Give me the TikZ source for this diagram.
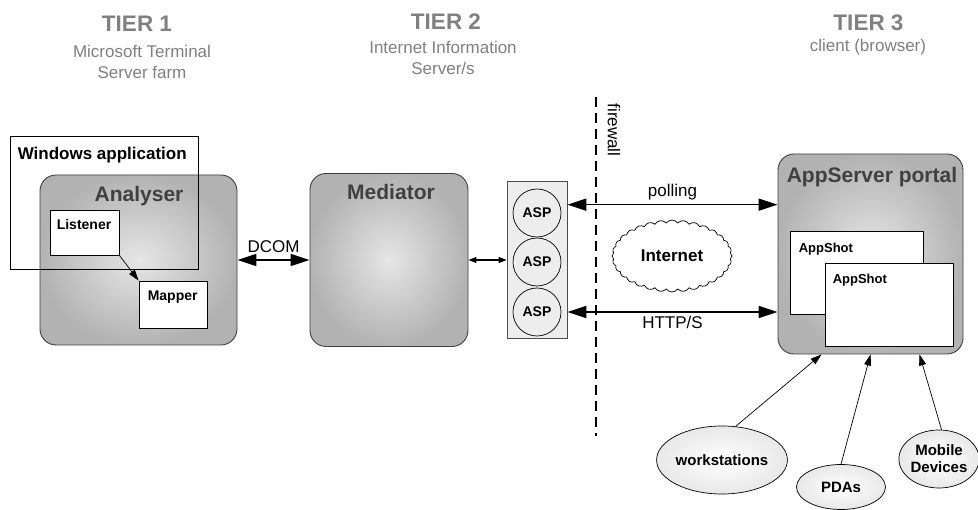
\documentclass[tikz,border=0pt]{standalone}
\usepackage{fontspec}
\setmainfont{Liberation Sans}
\usetikzlibrary{arrows.meta}
\usetikzlibrary{shapes.geometric}
\usetikzlibrary{shapes.symbols}
\definecolor{tiergray}{HTML}{808080}
\definecolor{panelgray}{HTML}{EDEDED}
\newcommand{\fsz}[1]{\fontsize{#1}{#1}\selectfont}
\tikzstyle{tier}=[text=tiergray, font=\fsz{22.5}\bfseries, anchor=base, inner sep=0pt]
\tikzstyle{tier note}=[text=tiergray, font=\fontsize{17}{21}\selectfont, align=center, anchor=north, inner sep=0pt]
\tikzstyle{tier box}=[draw=black!75, line width=0.9pt, rounded corners=16pt, inner color=black!10, outer color=black!30]
\tikzstyle{box title}=[text=black!75, font=\fsz{21}\bfseries, anchor=base, inner sep=0pt]
\tikzstyle{window}=[draw, line width=0.8pt]
\tikzstyle{part}=[draw, fill=white, line width=0.8pt]
\tikzstyle{part label}=[anchor=north west, inner sep=0pt, font=\fsz{14}\bfseries]
\tikzstyle{asp}=[circle, draw, fill=panelgray, line width=0.7pt, minimum size=48pt, inner sep=0pt, font=\fsz{14}\bfseries]
\tikzstyle{link}=[line width=1.6pt, {Triangle[length=19pt,width=12pt]}-{Triangle[length=19pt,width=12pt]}]
\tikzstyle{small link}=[line width=1.1pt, {Triangle[length=8pt,width=6pt]}-{Triangle[length=8pt,width=6pt]}]
\tikzstyle{call}=[line width=0.7pt, -{Triangle[length=11pt,width=7pt]}]
\tikzstyle{client}=[ellipse, draw, inner color=white, outer color=black!9, line width=0.7pt, inner sep=0pt, font=\fontsize{15}{17}\selectfont\bfseries, align=center]
\tikzstyle{firewall}=[line width=2.8pt, dash pattern=on 10pt off 6pt]
\tikzstyle{wire label}=[inner sep=0pt, font=\fsz{17}]

\begin{document}
\begin{tikzpicture}[x=1pt, y=-1pt]
      \useasboundingbox (0,0) rectangle (978,510);
      % tier headings
      \node[tier] (tier_one) at (137,32) {TIER 1};
      \node[tier note] (tier_one_note) at (142,44.5) {Microsoft Terminal\\Server farm};
      \node[tier] (tier_two) at (446,30) {TIER 2};
      \node[tier note] (tier_two_note) at (443,40.5) {Internet Information\\Server/s};
      \node[tier] (tier_three) at (868.5,31) {TIER 3};
      \node[tier note] (tier_three_note) at (868,39) {client (browser)};

      % tier 1
      \node[tier box, minimum width=197pt, minimum height=170pt] (analyser) at (138.5,260) {};
      \node[box title] (analyser_title) at (139,202) {Analyser};
      \node[window, minimum width=188pt, minimum height=133pt,
        label={[part label, font=\fsz{17}\bfseries, xshift=8pt, yshift=-11pt]north west:Windows application}]
        (win_app) at (104,202.5) {};
      \node[part, minimum width=69pt, minimum height=45pt,
        label={[part label, xshift=7pt, yshift=-10pt]north west:Listener}] (listener) at (84.5,232.5) {};
      \node[part, minimum width=68pt, minimum height=47pt,
        label={[part label, xshift=9pt, yshift=-10pt]north west:Mapper}] (mapper) at (173,304.5) {};

      % tier 2
      \node[tier box, minimum width=158pt, minimum height=173pt] (mediator) at (389,260) {};
      \node[box title] (mediator_title) at (391,200) {Mediator};
      \node[draw=black!70, fill=panelgray, line width=0.8pt, minimum width=60pt, minimum height=157pt] (asp_panel) at (537,260) {};
      \node[asp] (asp_top) at (537,213) {ASP};
      \node[asp] (asp_mid) at (537,262) {ASP};
      \node[asp] (asp_bot) at (537,312) {ASP};

      % firewall and internet
      \coordinate (fw_top) at (596,97);
      \coordinate (fw_bottom) at (596,436);
      \draw[firewall] (fw_top) -- (fw_bottom);
      \node[rotate=-90, wire label] (fw_label) at (614,130) {firewall};
      \node[cloud, draw, fill=white, line width=0.7pt, cloud puffs=32, cloud puff arc=110, aspect=1.7,
        minimum width=120pt, minimum height=72pt, inner sep=0pt, font=\fsz{17}\bfseries] (internet) at (672,256) {Internet};

      % tier 3
      \node[tier box, minimum width=185pt, minimum height=200pt] (appserver) at (870.5,254) {};
      \node[box title] (appserver_title) at (872,183) {AppServer portal};
      \node[part, minimum width=133pt, minimum height=83pt,
        label={[part label, font=\fsz{13}\bfseries, xshift=9pt, yshift=-12pt]north west:AppShot}] (appshot_back) at (856.5,272.5) {};
      \node[part, minimum width=128pt, minimum height=83pt,
        label={[part label, font=\fsz{13}\bfseries, xshift=8pt, yshift=-11pt]north west:AppShot}] (appshot_front) at (889,304.5) {};
      \node[client, minimum width=130pt, minimum height=68pt] (workstations) at (722,460) {workstations};
      \node[client, minimum width=89pt, minimum height=45pt] (pdas) at (841,487) {PDAs};
      \node[client, minimum width=78pt, minimum height=58pt] (mobile) at (939,459) {Mobile\\Devices};

      % connectors
      \draw[call] (listener.south east) -- (mapper.north west);
      \draw[link] (analyser.east) -- node[above=7pt, wire label] {DCOM} (mediator.west);
      \draw[small link] (mediator.east) -- (asp_panel.west);
      \draw[link] (asp_top.20 -| asp_panel.east)
        -- node[anchor=base, yshift=8pt, wire label] {polling} (asp_top.20 -| appserver.west);
      \draw[link] (asp_bot -| asp_panel.east)
        -- node[anchor=base, yshift=-17pt, wire label] {HTTP/S} (asp_bot -| appserver.west);
      \draw[call] (workstations.68) -- (appserver.244);
      \draw[call] (pdas.north) -- (appserver.south);
      \draw[call] (mobile.85) -- (appserver.296);
    \end{tikzpicture}
\end{document}
